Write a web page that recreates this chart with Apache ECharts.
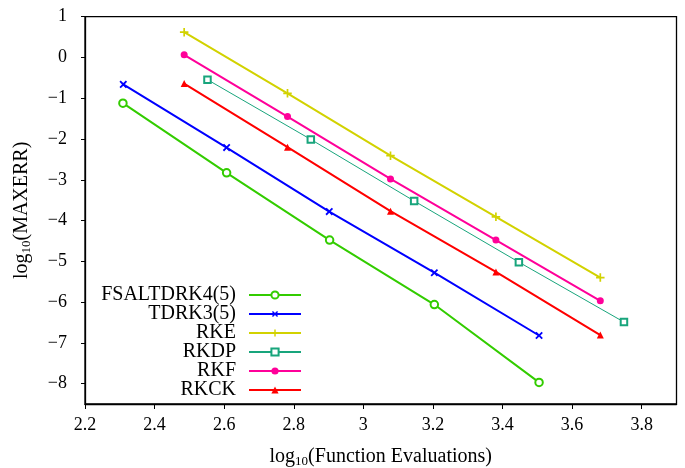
<!DOCTYPE html>
<html>
<head>
<meta charset="utf-8">
<script src="https://cdn.jsdelivr.net/npm/echarts@6/dist/echarts.min.js"></script>
<style>html,body{margin:0;padding:0;background:#fff;}#c{width:685px;height:468px;}</style>
</head>
<body>
<div id="c"></div>
<script>
// Data (log10 values)
var seriesNames = ['FSALTDRK4(5)', 'TDRK3(5)', 'RKE', 'RKDP', 'RKF', 'RKCK'];
var fsalX = [2.309, 2.607, 2.903, 3.204, 3.505];
var fsalY = [-1.12, -2.83, -4.48, -6.06, -7.97];
var tdrkX = [2.310, 2.607, 2.902, 3.204, 3.505];
var tdrkY = [-0.66, -2.21, -3.78, -5.28, -6.82];
var rkeX = [2.485, 2.782, 3.078, 3.381, 3.681];
var rkeY = [0.62, -0.88, -2.41, -3.91, -5.40];
var rkdpX = [2.552, 2.849, 3.146, 3.447, 3.749];
var rkdpY = [-0.545, -2.01, -3.52, -5.02, -6.49];
var rkfX = [2.485, 2.782, 3.078, 3.381, 3.681];
var rkfY = [0.065, -1.45, -2.98, -4.48, -5.97];
var rkckX = [2.485, 2.782, 3.078, 3.381, 3.681];
var rkckY = [-0.64, -2.20, -3.77, -5.26, -6.81];
var xTicks = [2.2, 2.4, 2.6, 2.8, 3.0, 3.2, 3.4, 3.6, 3.8];
var yTicks = [-8, -7, -6, -5, -4, -3, -2, -1, 0, 1];

function pairs(xs, ys) { return xs.map(function (x, i) { return [x, ys[i]]; }); }

var FONT = 'Liberation Serif';
var plusPath = 'path://M4,0H6V4H10V6H6V10H4V6H0V4H4Z';

function mk(name, xs, ys, color, symbol, size, lw, extra) {
  var s = {
    name: name, type: 'line', data: pairs(xs, ys),
    symbol: symbol, symbolSize: size, showSymbol: true,
    lineStyle: { color: color, width: lw },
    itemStyle: { color: color, borderColor: color, borderWidth: (extra && extra.bw) || 0 },
    emphasis: { disabled: true },
    animation: false, z: 3
  };
  if (extra && extra.rotate) s.symbolRotate = extra.rotate;
  return s;
}

var chart = echarts.init(document.getElementById('c'), null, { renderer: 'canvas' });
chart.setOption({
  backgroundColor: '#fff',
  animation: false,
  textStyle: { fontFamily: FONT, color: '#000' },
  grid: { left: 85, right: 8.5, top: 16.7, bottom: 64, show: true, borderColor: '#000', borderWidth: 1.3,
    containLabel: false, outerBoundsMode: 'none' },
  xAxis: {
    type: 'value', min: 2.2, max: 3.9,
    name: '{b|log}{s|10}{b|(Function Evaluations)}',
    nameLocation: 'middle', nameGap: 42,
    nameTextStyle: { rich: {
      b: { fontFamily: FONT, fontSize: 20, color: '#000' },
      s: { fontFamily: FONT, fontSize: 13, color: '#000', padding: [9, 0, 0, 0] }
    } },
    axisLine: { show: true, onZero: false, lineStyle: { color: '#000', width: 1.3 } },
    axisTick: { show: true, inside: false, length: 5, lineStyle: { color: '#000', width: 1 }, customValues: xTicks },
    axisLabel: { customValues: xTicks, fontFamily: FONT, fontSize: 18, color: '#000', margin: 12,
      formatter: function (v) { return (Math.round(v * 10) / 10).toString(); } },
    splitLine: { show: false }
  },
  yAxis: {
    type: 'value', min: -8.5, max: 1,
    name: '{b|log}{s|10}{b|(MAXERR)}',
    nameLocation: 'middle', nameGap: 52, nameRotate: 90,
    nameTextStyle: { rich: {
      b: { fontFamily: FONT, fontSize: 20, color: '#000' },
      s: { fontFamily: FONT, fontSize: 13, color: '#000', padding: [9, 0, 0, 0] }
    } },
    axisLine: { show: true, onZero: false, lineStyle: { color: '#000', width: 1.3 } },
    axisTick: { show: true, inside: false, length: 4, lineStyle: { color: '#000', width: 1 }, customValues: yTicks },
    axisLabel: { customValues: yTicks, fontFamily: FONT, fontSize: 18, color: '#000', margin: 18,
      formatter: function (v) { return String(Math.round(v)).replace('-', '\u2212'); } },
    splitLine: { show: false }
  },
  legend: {
    data: seriesNames,
    orient: 'vertical', align: 'right',
    right: 383, top: 285, padding: 0,
    itemWidth: 52, itemHeight: 9, itemGap: -1,
    iconRotate: 'inherit',
    textStyle: { fontFamily: FONT, fontSize: 20, color: '#000', padding: [0, 8, 0, 0] },
    selectedMode: false
  },
  series: [
    mk('FSALTDRK4(5)', fsalX, fsalY, '#33cc00', 'emptyCircle', 7.5, 2, { bw: 2 }),
    mk('TDRK3(5)', tdrkX, tdrkY, '#0000ff', plusPath, 9, 2, { rotate: 45 }),
    mk('RKE', rkeX, rkeY, '#d2d200', plusPath, 8.5, 2, {}),
    mk('RKDP', rkdpX, rkdpY, '#18a57c', 'emptyRect', 6.5, 1, { bw: 1.2 }),
    mk('RKF', rkfX, rkfY, '#ff0099', 'circle', 7, 2, {}),
    mk('RKCK', rkckX, rkckY, '#ff0000', 'triangle', 7, 2, {})
  ]
});
</script>
</body>
</html>
